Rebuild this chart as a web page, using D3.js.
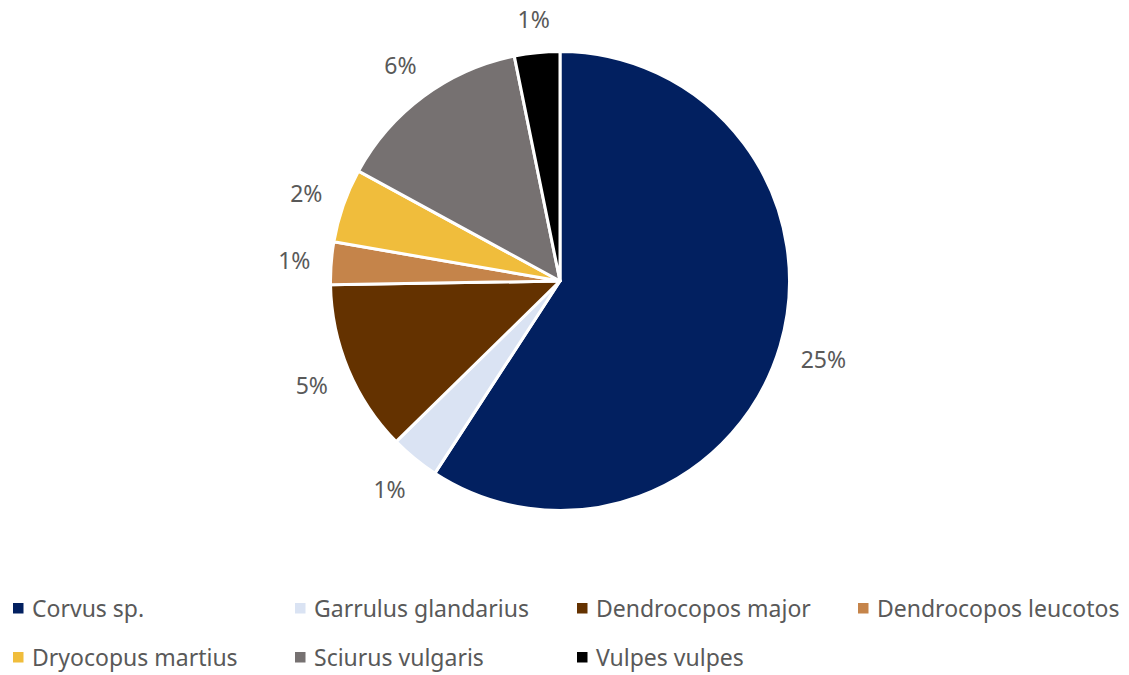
<!DOCTYPE html>
<html>
<head>
<meta charset="utf-8">
<script src="https://cdn.jsdelivr.net/npm/d3@7"></script>
<style>
  body { margin: 0; background: #fff; }
  svg text { font-family: "Noto Sans", "Open Sans", sans-serif; fill: #595959; }
</style>
</head>
<body>
<svg id="chart" width="1129" height="675"></svg>
<script>
// Species recorded and their share values (percent)
const species = ["Corvus sp.", "Garrulus glandarius", "Dendrocopos major", "Dendrocopos leucotos",
                 "Dryocopus martius", "Sciurus vulgaris", "Vulpes vulpes"];
const shares = [24.85, 1.46, 5.07, 1.26, 2.19, 5.82, 1.34];
const colors = ["#022060", "#dae3f3", "#643200", "#c5844a", "#f0bd3c", "#767171", "#000000"];

const svg = d3.select("#chart");
const cx = 560, cy = 281, r = 229.5;

const pie = d3.pie().sort(null).value(d => d.value);
const data = species.map((s, i) => ({ name: s, value: shares[i], color: colors[i] }));
const arcs = pie(data);
const arc = d3.arc().innerRadius(0).outerRadius(r);

const g = svg.append("g").attr("transform", `translate(${cx},${cy})`);

g.selectAll("path.slice")
  .data(arcs)
  .join("path")
  .attr("class", "slice")
  .attr("d", arc)
  .attr("fill", d => d.data.color)
  .attr("stroke", "#fff")
  .attr("stroke-width", 3)
  .attr("stroke-linejoin", "round");

// Data labels placed just outside the outer edge of each slice
const fmt = v => Math.round(v) + "%";
const fontSize = 23;
const labels = g.selectAll("text.lbl")
  .data(arcs)
  .join("text")
  .attr("class", "lbl")
  .attr("font-size", fontSize)
  .attr("text-anchor", "middle")
  .attr("dominant-baseline", "central")
  .text(d => fmt(d.data.value));

labels.each(function(d) {
  const a = (d.startAngle + d.endAngle) / 2;
  const bb = this.getBBox();
  const s = Math.sin(a), c = Math.cos(a);
  const dist = r + 20 + (bb.width / 2) * Math.abs(s) + 12 * Math.abs(c);
  d3.select(this).attr("x", dist * s).attr("y", -dist * c);
});

// Legend: two rows, four columns
const legendX = [13, 295, 577, 858];
const legendY = [608, 657];
const legend = svg.append("g");
data.forEach((d, i) => {
  const col = i % 4, row = Math.floor(i / 4);
  const item = legend.append("g")
    .attr("transform", `translate(${legendX[col]},${legendY[row]})`);
  item.append("rect")
    .attr("x", 0).attr("y", -5).attr("width", 10.5).attr("height", 10.5)
    .attr("fill", d.color);
  item.append("text")
    .attr("x", 19).attr("y", 0)
    .attr("font-size", fontSize)
    .attr("dominant-baseline", "central")
    .text(d.name);
});
</script>
</body>
</html>
